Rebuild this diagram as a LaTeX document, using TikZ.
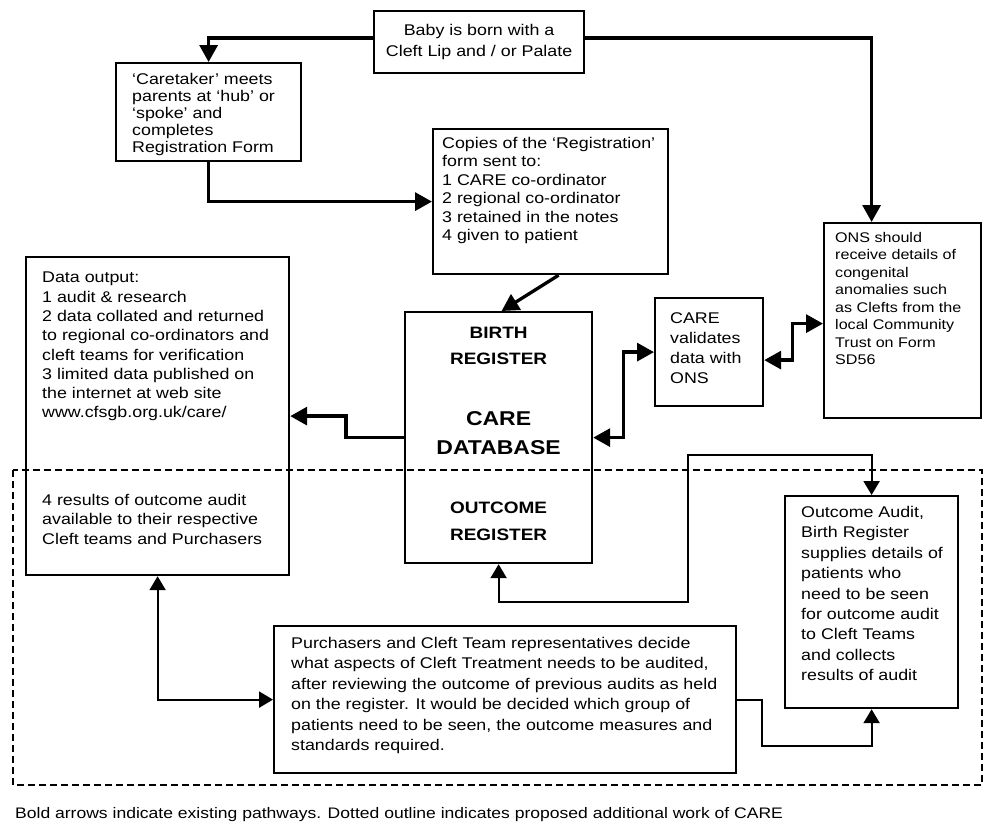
\documentclass[tikz,border=0pt]{standalone}
\usepackage{fontspec}
\setmainfont{Liberation Sans}[FakeStretch=1.15]
\usetikzlibrary{positioning,arrows.meta}

\begin{document}
\begin{tikzpicture}[
    x=1pt, y=-1pt,
    >={Triangle[length=17pt,width=18pt]},
    font=\fontsize{15.5}{18.5}\selectfont
]

\tikzstyle{box}=[draw, line width=2.2pt, anchor=north west, inner sep=0pt]
\tikzstyle{txt}=[align=left, inner sep=0pt]
\tikzstyle{dbtxt}=[align=center, inner sep=0pt, font=\bfseries\fontsize{16.5}{26}\selectfont]
\tikzstyle{bold}=[line width=3.3pt]
\tikzstyle{thin}=[line width=2.2pt, >={Triangle[length=14pt,width=16pt]}]
\tikzstyle{dashedbox}=[line width=2pt, dash pattern=on 7pt off 4pt]

\useasboundingbox (0,0) rectangle (984,823);

\node[box, minimum width=210pt, minimum height=62pt, align=center,
      font=\fontsize{15.5}{21}\selectfont] (baby) at (373,10)
    {Baby is born with a\\Cleft Lip and / or Palate};

\node[box, minimum width=185pt, minimum height=98pt] (caretaker) at (115,62) {};
\node[txt, font=\fontsize{15.5}{17}\selectfont, below right=11pt and 17pt of caretaker.north west] (caretakertxt)
    {‘Caretaker’ meets\\parents at ‘hub’ or\\‘spoke’ and\\completes\\Registration Form};

\node[box, minimum width=235pt, minimum height=145pt] (copies) at (432,128) {};
\node[txt, below right=9pt and 10pt of copies.north west] (copiestxt)
    {Copies of the ‘Registration’\\form sent to:\\1 CARE co-ordinator\\2 regional co-ordinator\\3 retained in the notes\\4 given to patient};

\node[box, minimum width=263pt, minimum height=318pt] (data) at (25,256) {};
\node[txt, font=\fontsize{15.5}{19.3}\selectfont, below right=16pt and 17pt of data.north west] (datatxt)
    {Data output:\\1 audit \& research\\2 data collated and returned\\to regional co-ordinators and\\cleft teams for verification\\3 limited data published on\\the internet at web site\\www.cfsgb.org.uk/care/};
\node[txt, font=\fontsize{15.5}{19.5}\selectfont, below right=238pt and 17pt of data.north west] (resultstxt)
    {4 results of outcome audit\\available to their respective\\Cleft teams and Purchasers};

\node[box, minimum width=187pt, minimum height=251pt] (db) at (404,311) {};
\node[dbtxt, below=16pt of db.north] (birth) {BIRTH\\REGISTER};
\node[dbtxt, font=\bfseries\fontsize{20}{29}\selectfont, below=100pt of db.north] (caredb) {CARE\\DATABASE};
\node[dbtxt, font=\bfseries\fontsize{16.5}{27}\selectfont, below=191pt of db.north] (outcome) {OUTCOME\\REGISTER};

\node[box, minimum width=108pt, minimum height=108pt] (care) at (654,297) {};
\node[txt, font=\fontsize{15.5}{20}\selectfont, below right=15pt and 16pt of care.north west] (caretxt)
    {CARE\\validates\\data with\\ONS};

\node[box, minimum width=157pt, minimum height=195pt] (ons) at (823,222) {};
\node[txt, font=\fontsize{14}{17.5}\selectfont, below right=10pt and 12pt of ons.north west] (onstxt)
    {ONS should\\receive details of\\congenital\\anomalies such\\as Clefts from the\\local Community\\Trust on Form\\SD56};

\node[box, minimum width=173pt, minimum height=212pt] (audit) at (784,495) {};
\node[txt, font=\fontsize{15.5}{20.4}\selectfont, below right=11pt and 17pt of audit.north west] (audittxt)
    {Outcome Audit,\\Birth Register\\supplies details of\\patients who\\need to be seen\\for outcome audit\\to Cleft Teams\\and collects\\results of audit};

\node[box, minimum width=462pt, minimum height=147pt] (purch) at (273,625) {};
\node[txt, font=\fontsize{15.5}{20.4}\selectfont, below right=12pt and 18pt of purch.north west] (purchtxt)
    {Purchasers and Cleft Team representatives decide\\what aspects of Cleft Treatment needs to be audited,\\after reviewing the outcome of previous audits as held\\on the register. It would be decided which group of\\patients need to be seen, the outcome measures and\\standards required.};

\draw[dashedbox] (13,470) rectangle (982,785);

\node[anchor=west, inner sep=0pt, font=\fontsize{15.25}{18}\selectfont] (note) at (15,815)
    {Bold arrows indicate existing pathways. Dotted outline indicates proposed additional work of CARE};

\draw[bold,->] ([yshift=4pt]baby.west) -| (caretaker.north);
\draw[bold,->] ([yshift=4pt]baby.east) -| ([xshift=-31pt]ons.north);
\draw[bold,->] (caretaker.south) |- (copies.west);
\draw[bold,->] ([xshift=8pt]copies.south) -- ([xshift=3pt]db.north);
\draw[bold,->] (db.west) -- ++(-58,0) |- (data.east);
\draw[bold,<->] (db.east) -- ++(30,0) |- (care.west);
\draw[bold,<->] ([yshift=-8pt]care.east) -- ++(28,0) |- ([yshift=-3pt]ons.west);

\coordinate (looptop) at (688,455);
\draw[thin,<->] (db.south) -- ++(0,38) -| (looptop) -| (audit.north);
\draw[thin,->] (purch.east) -- ++(25,0) -- ++(0,46) -| (audit.south);
\draw[thin,<->] (data.south) |- (purch.west);

\end{tikzpicture}
\end{document}
